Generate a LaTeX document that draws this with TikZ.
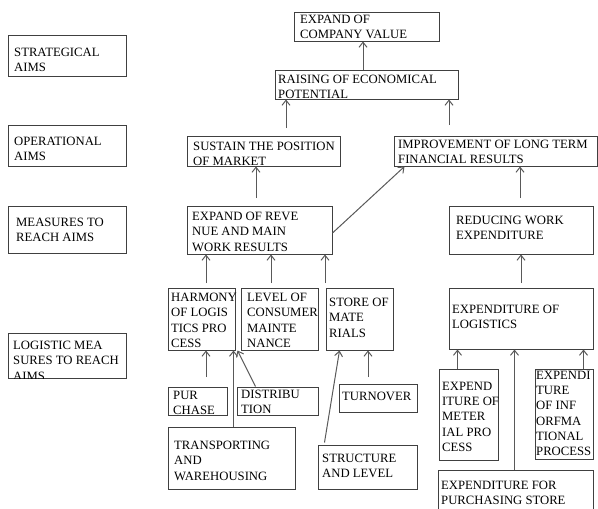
\documentclass[tikz,border=0pt]{standalone}
\usepackage{fontspec}
\setmainfont{Liberation Serif}
\usetikzlibrary{arrows.meta,fit,calc}
\tikzset{
 boxs/.style={draw=black!75, line width=1pt, inner sep=0pt},
 txt/.style={font=\fontsize{12.7}{15.2}\selectfont, align=left, inner sep=0pt, anchor=north west, text=black},
 arr/.style={draw=black!65, line width=1pt, -{Straight Barb[length=5pt,width=8pt]}}
}
\newcommand\bx[8]{%
 \node[boxs, fit={(#2,#3) (#4,#5)}] (#1) {};
 \begin{scope}\clip (#2-30,#3) rectangle (#4+30,#5);
 \node[txt] (#1-t) at (#6,#7) {#8};
 \end{scope}}
\begin{document}
\begin{tikzpicture}[x=1pt,y=-1pt]
\useasboundingbox (0,0) rectangle (598,509);
\bx{strat}{8}{35}{126}{76}{14}{48}{STRATEGICAL\\AIMS}
\bx{oper}{8}{125}{126}{166}{14}{137}{OPERATIONAL\\AIMS}
\bx{meas}{8}{206}{126}{253}{16}{218}{MEASURES TO\\REACH AIMS}
\bx{logm}{8}{333}{126}{378}{13}{341}{LOGISTIC MEA\\SURES TO REACH\\AIMS}
\bx{cval}{294}{12}{439}{41}{300}{15}{EXPAND OF\\COMPANY VALUE}
\bx{raise}{275}{70}{458}{99}{278}{74.5}{RAISING OF ECONOMICAL\\POTENTIAL}
\bx{sust}{187}{136}{340}{166}{193}{141.5}{SUSTAIN THE POSITION\\OF MARKET}
\bx{impr}{394}{136}{597}{166}{398}{140}{IMPROVEMENT OF LONG TERM\\FINANCIAL RESULTS}
\bx{rev}{187}{206}{332}{254}{192}{212}{EXPAND OF REVE\\NUE AND MAIN\\WORK RESULTS}
\bx{red}{449}{206}{593}{254}{456}{216}{REDUCING WORK\\EXPENDITURE}
\bx{harm}{168}{288}{235}{350}{171}{293}{HARMONY\\OF LOGIS\\TICS PRO\\CESS}
\bx{lev}{241}{288}{318}{350}{247}{293}{LEVEL OF\\CONSUMER\\MAINTE\\NANCE}
\bx{store}{326}{288}{393}{350}{329}{298}{STORE OF\\MATE\\RIALS}
\bx{explog}{449}{288}{593}{349}{452}{305}{EXPENDITURE OF\\LOGISTICS}
\bx{purch}{168}{387}{227}{415}{173}{391}{PUR\\CHASE}
\bx{distr}{237}{387}{318}{415}{241}{390}{DISTRIBU\\TION}
\bx{turn}{339}{384}{417}{412}{342}{392}{TURNOVER}
\bx{trans}{168}{427}{295}{489}{174}{441}{TRANSPORTING\\AND\\WAREHOUSING}
\bx{struct}{318}{445}{417}{489}{322}{454}{STRUCTURE\\AND LEVEL}
\bx{meter}{439}{369}{498}{460}{442}{382}{EXPEND\\ITURE OF\\METER\\IAL PRO\\CESS}
\bx{inf}{535}{369}{593}{459}{536}{371}{EXPENDI\\TURE\\OF INF\\ORFMA\\TIONAL\\PROCESS}
\bx{pstore}{438}{470}{593}{514}{441}{481}{EXPENDITURE FOR\\PURCHASING STORE}
% connectors
\coordinate (p1) at (363,70);
\draw[arr] (p1) -- (p1 |- cval.south);
\coordinate (p2) at (286,128);
\draw[arr] (p2) -- (p2 |- raise.south);
\coordinate (p3) at (449,125);
\draw[arr] (p3) -- (p3 |- raise.south);
\coordinate (p4) at (256,198);
\draw[arr] (p4) -- (p4 |- sust.south);
\coordinate (p5) at (520,198);
\draw[arr] (p5) -- (p5 |- impr.south);
\draw[arr] ($(rev.east)+(0,3)$) -- ($(impr.south west)+(11,0)$);
\coordinate (p6) at (206,283);
\draw[arr] (p6) -- (p6 |- rev.south);
\coordinate (p7) at (271,283);
\draw[arr] (p7) -- (p7 |- rev.south);
\coordinate (p8) at (325,283);
\draw[arr] (p8) -- (p8 |- rev.south);
\coordinate (p9) at (521,283);
\draw[arr] (p9) -- (p9 |- red.south);
\coordinate (p10) at (206,377);
\draw[arr] (p10) -- (p10 |- harm.south);
\draw[arr] ($(trans.north west)+(66,0)$) coordinate (p11) -- (p11 |- harm.south);
\draw[arr] ($(distr.north west)+(19,0)$) -- ($(harm.south east)+(2,0)$);
\draw[arr] ($(struct.north west)+(7,-2)$) -- ($(store.south west)+(14,0)$);
\coordinate (p12) at (368,377);
\draw[arr] (p12) -- (p12 |- store.south);
\draw[arr] ($(meter.north west)+(19,0)$) coordinate (q1) -- (q1 |- explog.south);
\draw[arr] ($(pstore.north west)+(77,0)$) coordinate (q2) -- (q2 |- explog.south);
\draw[arr] ($(inf.north west)+(49,0)$) coordinate (q3) -- (q3 |- explog.south);
\end{tikzpicture}
\end{document}
